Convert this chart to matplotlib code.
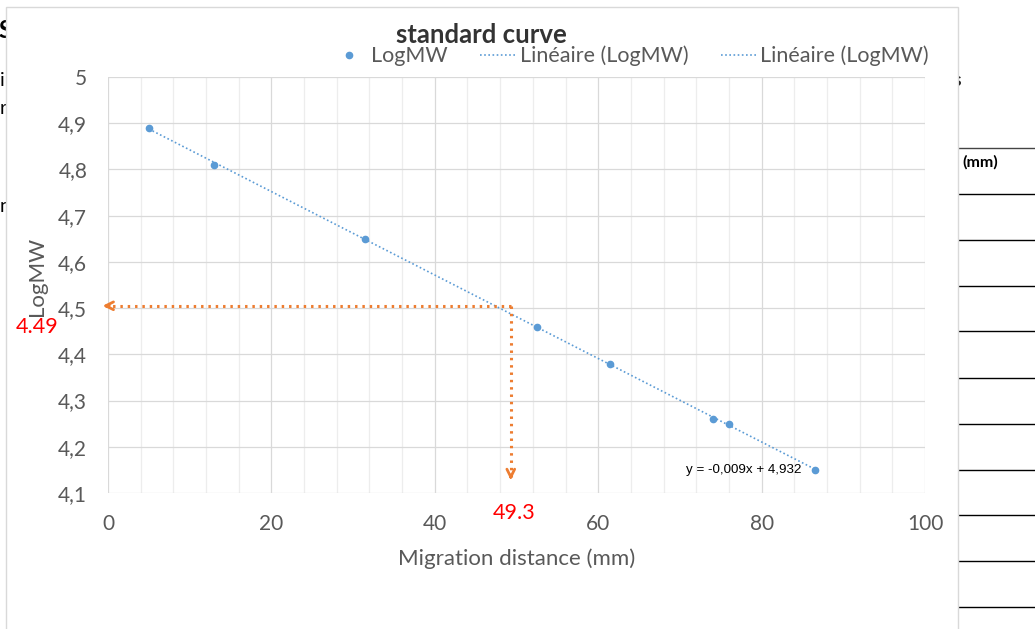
import matplotlib
matplotlib.use("Agg")
import matplotlib.pyplot as plt
import numpy as np
from matplotlib.lines import Line2D
from matplotlib.patches import Rectangle
from matplotlib.ticker import MultipleLocator, FuncFormatter

# data
distance_mm = [5, 13, 31.5, 52.5, 61.5, 74, 76, 86.5]
log_mw = [4.89, 4.81, 4.65, 4.46, 4.38, 4.26, 4.25, 4.15]

# reading of the unknown band
read_x = 49.3
read_y = 4.505
read_x_label = "49.3"
read_y_label = "4.49"
equation = "y = -0,009x + 4,932"

x_ticks = [0, 20, 40, 60, 80, 100]
y_ticks = [4.1, 4.2, 4.3, 4.4, 4.5, 4.6, 4.7, 4.8, 4.9, 5.0]

BLUE = "#5B9BD5"
ORANGE = "#ED7D31"
GREY = "#595959"

plt.rcParams["font.family"] = ["Lato", "DejaVu Sans"]

W, H = 1035, 629
fig = plt.figure(figsize=(W / 100, H / 100), dpi=100)


def fx(px):
    return px / W


def fy(py):
    return 1 - py / H


# bits of the document behind the chart
fig.text(fx(-2), fy(30), "S", fontsize=17, fontweight="bold", va="center", zorder=-3)
fig.text(fx(0), fy(80), "i", fontsize=14, va="center", zorder=-3)
fig.text(fx(0), fy(108), "r", fontsize=14, va="center", zorder=-3)
fig.text(fx(0), fy(207), "n", fontsize=14, va="center", zorder=-3)
fig.text(fx(953), fy(80), "s", fontsize=14, fontweight="bold", va="center", zorder=-3)
for i, py in enumerate([148, 194, 240, 286, 331, 378, 424, 470, 515, 561, 607]):
    fig.add_artist(Line2D([fx(958), 1], [fy(py), fy(py)], color="#444444" if i == 0 else "black",
                          lw=1.0, zorder=-3))
fig.text(fx(962), fy(162), "(mm)", fontsize=11.5, fontweight="bold", va="center", zorder=-3)

# chart area box
fig.add_artist(Rectangle((fx(6), -0.1), fx(958) - fx(6), fy(7) + 0.1, facecolor="white",
                         edgecolor="#D9D9D9", lw=1.0, zorder=-1))

ax = fig.add_axes([fx(108), fy(493), fx(925) - fx(108), fy(77) - fy(493)])
ax.set_facecolor("none")

# points + linear trendline
ax.plot(distance_mm, log_mw, "o", color=BLUE, ms=4.5, zorder=4)
slope, intercept = np.polyfit(distance_mm, log_mw, 1)
xs = np.array([min(distance_mm), max(distance_mm)])
ax.plot(xs, slope * xs + intercept, color=BLUE, lw=1.2, ls=(0, (1, 1.5)), zorder=3)
ax.text(max(distance_mm) - 1.6, min(log_mw), equation, fontsize=9.6,
        ha="right", va="center", family=["Liberation Sans", "DejaVu Sans"], color="black")

# reading arrows
ax.plot([read_x, -0.6], [read_y, read_y], color=ORANGE, lw=2.2, ls=(0, (0.8, 1.6)),
        clip_on=False, zorder=5)
ax.plot([read_x, read_x], [read_y, 4.135], color=ORANGE, lw=2.2, ls=(0, (0.8, 1.6)),
        clip_on=False, zorder=5)
ax.annotate("", xy=(-1.0, read_y), xytext=(0.5, read_y),
            arrowprops=dict(arrowstyle="->", color=ORANGE, lw=2.0, mutation_scale=14),
            annotation_clip=False, zorder=6)
ax.annotate("", xy=(read_x, 4.122), xytext=(read_x, 4.145),
            arrowprops=dict(arrowstyle="->", color=ORANGE, lw=2.0, mutation_scale=14),
            annotation_clip=False, zorder=6)
fig.text(fx(37), fy(327), read_y_label, color="red", fontsize=15.5, ha="center", va="center")
fig.text(fx(514), fy(513), read_x_label, color="red", fontsize=15.5, ha="center", va="center")

# axes styling
ax.set_xlim(0, 100)
ax.set_ylim(4.1, 5.0)
ax.set_xticks(x_ticks)
ax.set_yticks(y_ticks)
ax.xaxis.set_minor_locator(MultipleLocator(4))
ax.yaxis.set_major_formatter(FuncFormatter(lambda v, p: f"{v:g}".replace(".", ",")))
ax.grid(which="major", color="#D9D9D9", lw=0.9)
ax.grid(which="minor", axis="x", color="#EDEDED", lw=0.9)
ax.set_axisbelow(True)
for s in ax.spines.values():
    s.set_visible(False)
ax.tick_params(which="both", length=0, colors=GREY, labelsize=15)
ax.tick_params(axis="x", pad=15)
ax.tick_params(axis="y", pad=15)

ax.set_xlabel("Migration distance (mm)", fontsize=16, color=GREY)
ax.xaxis.set_label_coords(0.5, -0.132)
ax.set_ylabel("LogMW", fontsize=16, color=GREY)
ax.yaxis.set_label_coords(-0.075, 0.52)

fig.text(fx(481), fy(35), "standard curve", fontsize=18.5, fontweight="bold", color="#333333",
         ha="center", va="center", zorder=5)

handles = [
    Line2D([], [], marker="o", ls="none", color=BLUE, ms=4.5),
    Line2D([], [], color=BLUE, lw=1.2, ls=(0, (1, 1.5))),
    Line2D([], [], color=BLUE, lw=1.2, ls=(0, (1, 1.5))),
]
fig.legend(handles, ["LogMW", "Linéaire (LogMW)", "Linéaire (LogMW)"], loc="center",
           bbox_to_anchor=(fx(630), fy(56)), ncol=3, frameon=False, fontsize=15.5,
           labelcolor=GREY, handlelength=1.7, handletextpad=0.15, columnspacing=1.5,
           borderpad=0)

fig.savefig("out.png", dpi=100)
